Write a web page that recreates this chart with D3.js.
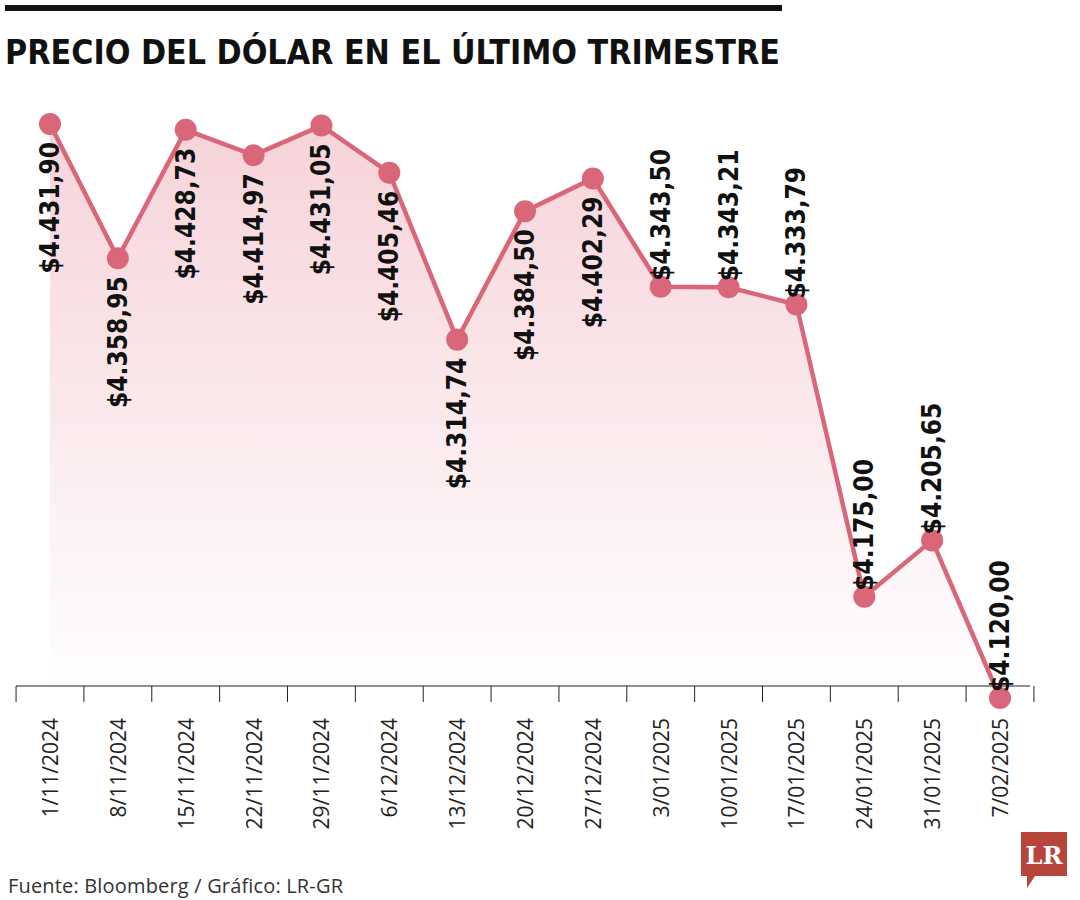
<!DOCTYPE html>
<html><head><meta charset="utf-8">
<script src="https://cdn.jsdelivr.net/npm/d3@7"></script>
<style>body{margin:0;background:#fff}</style>
</head><body><svg id="c" width="1080" height="900"></svg>
<script>
const dates = ["1/11/2024","8/11/2024","15/11/2024","22/11/2024","29/11/2024","6/12/2024","13/12/2024","20/12/2024","27/12/2024","3/01/2025","10/01/2025","17/01/2025","24/01/2025","31/01/2025","7/02/2025"];
const prices = [4431.90,4358.95,4428.73,4414.97,4431.05,4405.46,4314.74,4384.50,4402.29,4343.50,4343.21,4333.79,4175.00,4205.65,4120.00];
const labelAbove = [false,false,false,false,false,false,false,false,false,true,true,true,true,true,true];

const svg = d3.select("#c");
const color = "#d96679";
const font = "'DejaVu Sans Condensed','DejaVu Sans',sans-serif";

svg.append("rect").attr("x",5).attr("y",5).attr("width",777).attr("height",6).attr("fill","#111");
svg.append("text").attr("x",5).attr("y",64).attr("font-family",font).attr("font-weight","bold")
  .attr("font-size",34).attr("fill","#111").attr("textLength",775).attr("lengthAdjust","spacingAndGlyphs")
  .text("PRECIO DEL DÓLAR EN EL ÚLTIMO TRIMESTRE");

const x = d3.scalePoint().domain(dates).range([50,1000]);
const y = d3.scaleLinear().domain([4120,4431.9]).range([698,124]);
const step = x.step();

const defs = svg.append("defs");
const grad = defs.append("linearGradient").attr("id","g").attr("x1",0).attr("y1",0).attr("x2",0).attr("y2",1);
grad.append("stop").attr("offset","0%").attr("stop-color","#f6d3d9");
grad.append("stop").attr("offset","100%").attr("stop-color","#fff");

const data = dates.map((d,i)=>({d,v:prices[i],above:labelAbove[i]}));
svg.append("path").datum(data).attr("fill","url(#g)")
  .attr("d",d3.area().x(p=>x(p.d)).y0(686).y1(p=>y(p.v)));

// axis
svg.append("line").attr("x1",16).attr("x2",1030).attr("y1",686).attr("y2",686).attr("stroke","#222").attr("stroke-width",1.2);
svg.selectAll(".tk").data(d3.range(dates.length+1)).enter().append("line")
  .attr("x1",i=>x(dates[0])-step/2+i*step).attr("x2",i=>x(dates[0])-step/2+i*step)
  .attr("y1",686).attr("y2",702).attr("stroke","#222").attr("stroke-width",1);
svg.selectAll(".xl").data(dates).enter().append("text")
  .attr("transform",d=>`translate(${x(d)+8},718) rotate(-90)`)
  .attr("text-anchor","end").attr("font-family","'Open Sans',sans-serif").attr("font-size",21).attr("fill","#222")
  .text(d=>d);

svg.append("path").datum(data).attr("fill","none").attr("stroke",color).attr("stroke-width",4.5)
  .attr("d",d3.line().x(p=>x(p.d)).y(p=>y(p.v)));
svg.selectAll(".pt").data(data).enter().append("circle")
  .attr("cx",p=>x(p.d)).attr("cy",p=>y(p.v)).attr("r",11).attr("fill",color);

const fmt = v => "$" + d3.format(",.2f")(v).replace(/,/g,"#").replace(".",",").replace(/#/g,".");
svg.selectAll(".vl").data(data).enter().append("text")
  .attr("transform",p=>p.above ? `translate(${x(p.d)+9},${y(p.v)-6}) rotate(-90)` : `translate(${x(p.d)+9},${y(p.v)+18}) rotate(-90)`)
  .attr("text-anchor",p=>p.above?"start":"end")
  .attr("font-family",font).attr("font-weight","bold").attr("font-size",26).attr("fill","#111")
  .text(p=>fmt(p.v));

svg.append("text").attr("x",8).attr("y",893).attr("font-family","'Open Sans',sans-serif").attr("font-size",20).attr("fill","#333")
  .attr("textLength",335).text("Fuente: Bloomberg / Gráfico: LR-GR");
// LR logo
svg.append("path").attr("d","M1021,832 h46 v44 h-32 l-8,12 v-12 h-6 z").attr("fill","#b8453c");
svg.append("text").attr("x",1044).attr("y",864).attr("text-anchor","middle").attr("font-family","'DejaVu Serif',serif")
  .attr("font-weight","bold").attr("font-size",24).attr("fill","#fff").text("LR");
</script></body></html>
